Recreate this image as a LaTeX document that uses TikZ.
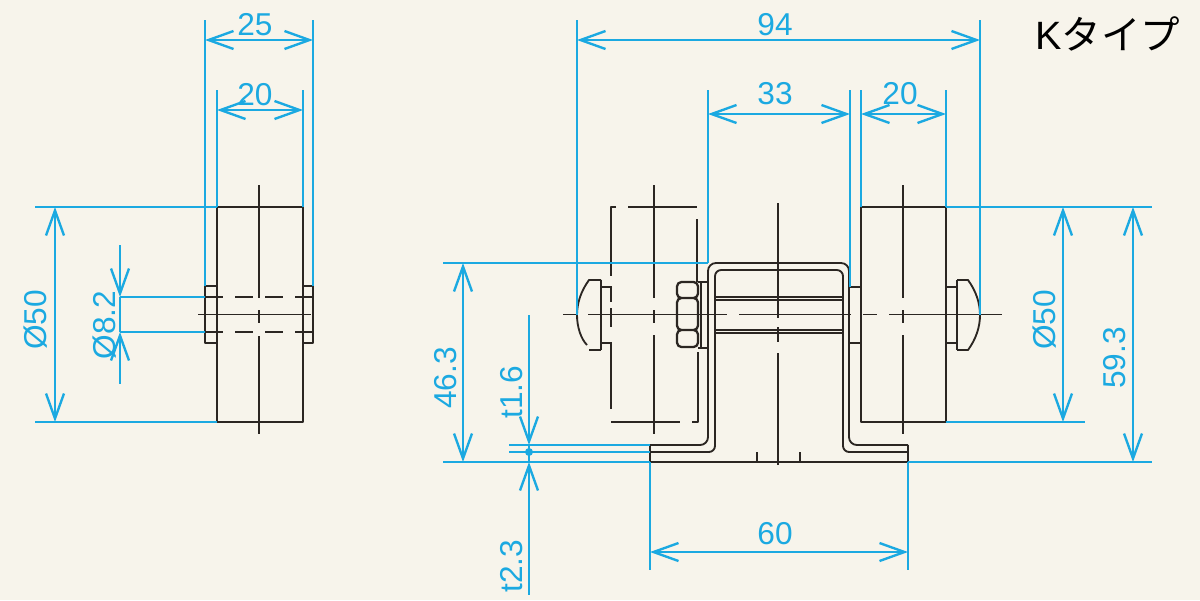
\documentclass[tikz,border=0pt]{standalone}
\usepackage{fontspec}
\setmainfont{Liberation Sans}
\newfontfamily\cjk{Noto Sans CJK JP}
\usetikzlibrary{arrows.meta}
\definecolor{paper}{HTML}{F7F4EB}
\definecolor{b1}{HTML}{1BA9E1}
\definecolor{k1}{HTML}{2B2622}
\tikzset{
  part/.style={color=k1,line width=1.05pt,line join=round},
  barb/.tip={Straight Barb[length=0.5cm,width=0.36cm]},
  dimline/.style={color=b1,line width=1.35pt,barb-barb},
  dimone/.style={color=b1,line width=1.35pt,barb-},
  extline/.style={color=b1,line width=1.35pt},
  dimtext/.style={text=b1,font=\fontsize{18}{18}\selectfont,inner sep=0pt},
}
\begin{document}
\begin{tikzpicture}[x=0.02cm,y=-0.02cm]
	\fill [paper] (0,0) rectangle (1200,600);
	\node (title) at (1108,34) {\fontsize{22.5}{22.5}\selectfont K\cjk タイプ};

	% left view
	\draw [part] (217,207) rectangle (303,422);
	\draw [part] (217,286)--(205,286)--(205,343)--(217,343);
	\draw [part] (303,286)--(313,286)--(313,343)--(303,343);
	\draw [part] (198,314.5)--(311,314.5);
	\draw [part] (259,185)--(259,298) (259,310)--(259,323) (259,336)--(259,434);
	\foreach \y in {297,332}
	  \draw [part] (205,\y)--(223,\y) (235,\y)--(253,\y) (265,\y)--(283,\y) (295,\y)--(313,\y);

	% hidden wheel, bolts and nut
	\draw [part] (616,207)--(611,207)--(611,276) (611,287)--(611,302) (611,308)--(611,327) (611,342)--(611,409);
	\draw [part] (628,207)--(697,207) (611,422)--(680,422) (692,422)--(698,422)--(698,352) (697,282)--(697,219);
	\draw [part] (654,185)--(654,298) (654,310)--(654,323) (654,335)--(654,434);
	\draw [part] (563,314.5)--(577,314.5) (588,314.5)--(727,314.5) (739,314.5)--(851,314.5) (863,314.5)--(877,314.5) (889,314.5)--(1002,314.5);
	\draw [part] (903,185)--(903,298) (903,310)--(903,323) (903,335)--(903,434);
	\draw [part] (612,287)--(601,287) (601,280)--(601,350) (601,343)--(612,343);
	\draw [part] (601,280)--(589,280) .. controls (581,291) and (577,303) .. (577,315) .. controls (577,327) and (581,339) .. (587,345);
	\draw [part] (589,350)--(601,350);
	\draw [part,line width=1.3pt,rounded corners=2.5pt] (698,282) rectangle (677,298) (698,298) rectangle (677,330) (698,330) rectangle (677,347);
	\draw [part] (698,282)--(708,282) (698,348)--(708,348) (701,282)--(701,348);

	% bracket
	\draw [part] (650,445)--(650,462)--(908,462)--(908,445);
	\draw [part,rounded corners=4.5pt] (650,445)--(708,445)--(708,263)--(849,263)--(849,445)--(908,445);
	\draw [part,rounded corners=3.5pt] (650,452)--(715,452)--(715,270)--(843,270)--(843,452)--(908,452);
	\draw [part] (757,452)--(757,462) (800,452)--(800,462);
	\draw [part] (715,297)--(843,297) (715,300)--(843,300) (715,330)--(843,330) (715,333)--(843,333);
	\draw [part] (778,203)--(778,318) (778,327)--(778,342) (778,353)--(778,465);

	% right wheel
	\draw [part] (861,207) rectangle (946,422);
	\draw [part] (861,287)--(849,287)--(849,343)--(861,343);
	\draw [part] (946,287)--(957,287) (946,343)--(957,343) (957,280)--(957,350);
	\draw [part] (957,280)--(968,280) .. controls (976,291) and (980,303) .. (980,315) .. controls (980,327) and (976,339) .. (968,350)--(957,350);

	% extension lines
	\draw [extline] (205,20)--(205,286) (313,20)--(313,286) (217,90)--(217,207) (303,90)--(303,207);
	\draw [extline] (35,207)--(217,207) (35,422)--(217,422) (120,297)--(205,297) (120,332)--(205,332);
	\draw [extline] (577,20)--(577,315) (980,20)--(980,315) (708,90)--(708,263) (850,90)--(850,287) (861,90)--(861,207) (946,90)--(946,207);
	\draw [extline] (443,263)--(708,263) (443,462)--(650,462) (908,462)--(1152,462) (946,207)--(1152,207) (946,422)--(1085,422);
	\draw [extline] (509,445)--(650,445) (509,452)--(650,452) (650,462)--(650,570) (908,462)--(908,570);
	\fill [b1] (529,452) circle (4);

	% dimensions
	\draw [dimline] (205,40)--(313,40);
	\draw [dimline] (217,110)--(303,110);
	\draw [dimline] (55,207)--(55,422);
	\draw [dimone] (120,297)--(120,245);
	\draw [dimone] (120,332)--(120,384);
	\draw [extline] (120,297)--(120,332);
	\draw [dimline] (577,40)--(980,40);
	\draw [dimline] (708,114)--(850,114);
	\draw [dimline] (861,114)--(946,114);
	\draw [dimline] (463,263)--(463,462);
	\draw [dimline] (1063,207)--(1063,422);
	\draw [dimline] (1133,207)--(1133,462);
	\draw [dimline] (650,552)--(908,552);
	\draw [dimone] (529,445)--(529,315);
	\draw [dimone] (529,462)--(529,595);
	\draw [extline] (529,445)--(529,462);

	\node [dimtext] (w25) at (255,25) {25};
	\node [dimtext] (w20) at (255,95) {20};
	\node [dimtext,rotate=90] (dia50l) at (36,320) {Ø50};
	\node [dimtext,rotate=90] (dia82) at (105,325) {Ø8.2};
	\node [dimtext] (w94) at (775,25) {94};
	\node [dimtext] (w33) at (775,94) {33};
	\node [dimtext] (w20r) at (900,94) {20};
	\node [dimtext,rotate=90] (h463) at (446,378) {46.3};
	\node [dimtext,rotate=90] (t16) at (512,392) {t1.6};
	\node [dimtext,rotate=90] (t23) at (512,566) {t2.3};
	\node [dimtext] (w60) at (775,534) {60};
	\node [dimtext,rotate=90] (dia50r) at (1045,320) {Ø50};
	\node [dimtext,rotate=90] (h593) at (1115,358) {59.3};
\end{tikzpicture}
\end{document}
